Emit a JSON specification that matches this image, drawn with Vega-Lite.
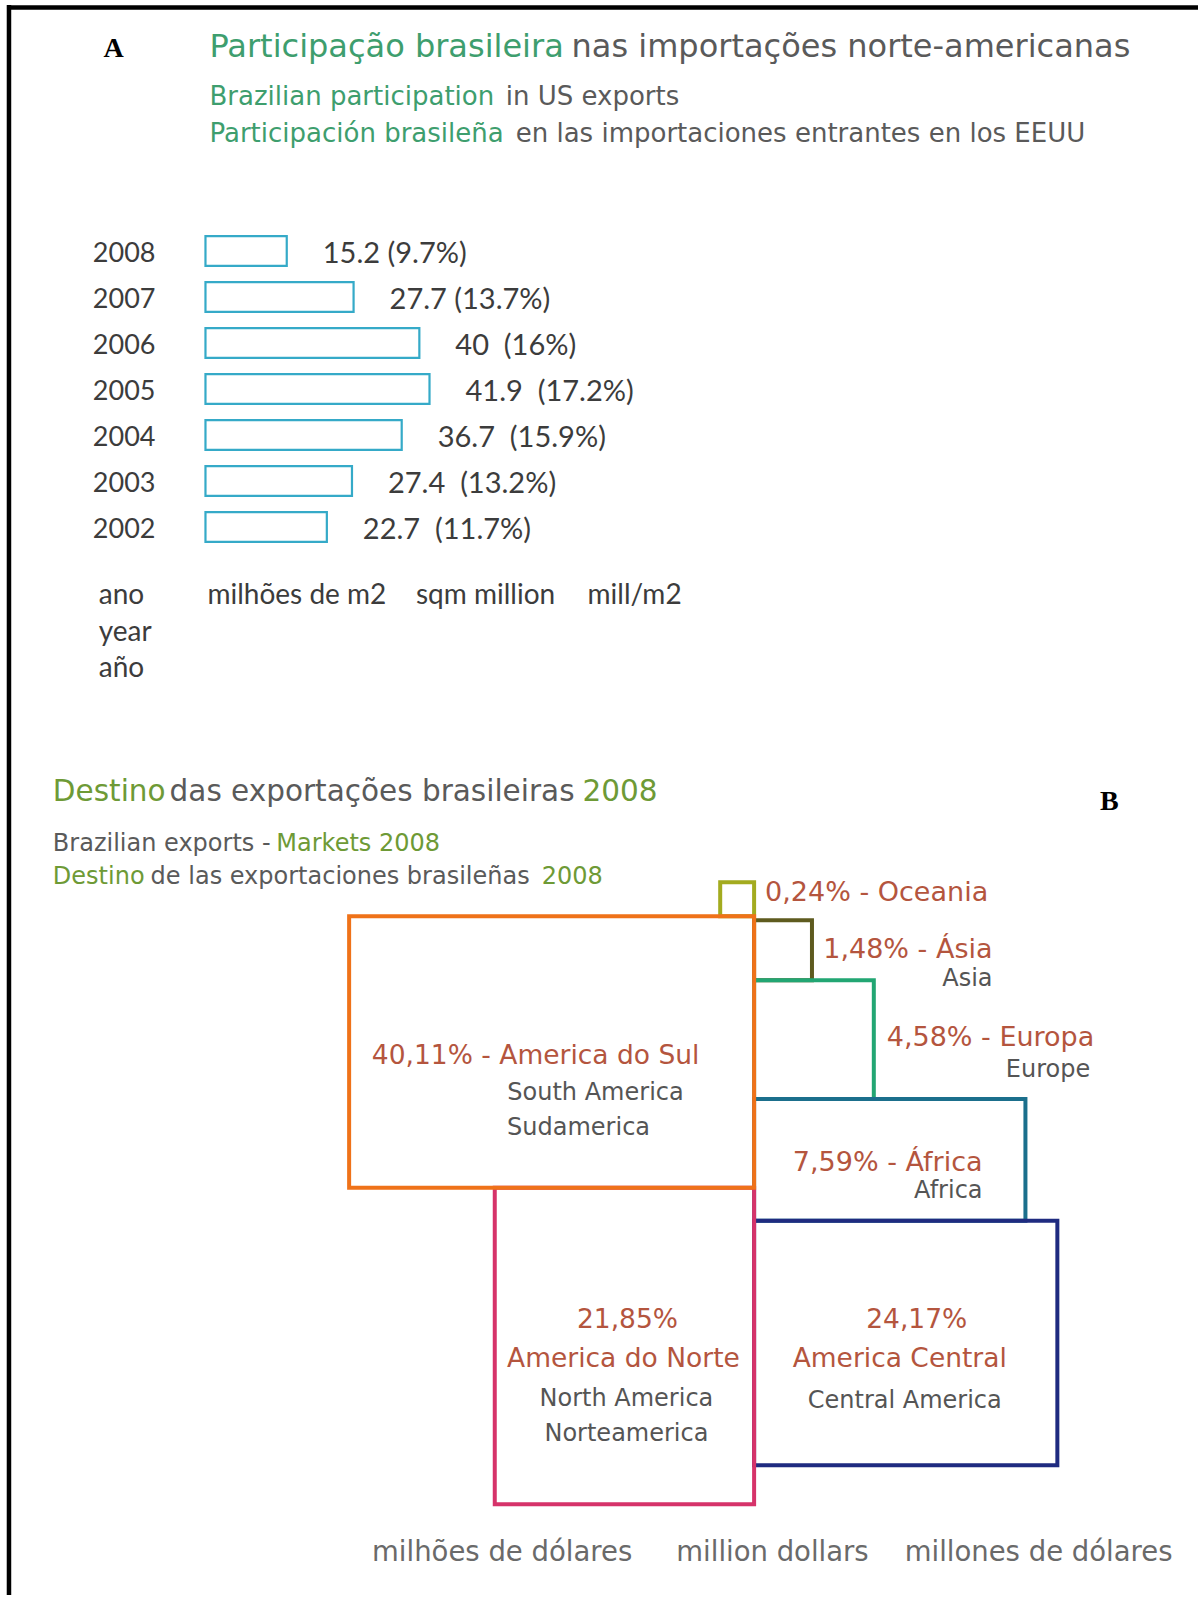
{
  "$schema": "https://vega.github.io/schema/vega-lite/v6.json",
  "width": 1201,
  "height": 1598,
  "autosize": {"type": "fit", "contains": "padding"},
  "padding": 0,
  "background": "white",
  "config": {"view": {"stroke": null}, "font": "DejaVu Sans"},
  "datasets": {
    "imports": [
      {"year": "2008", "value": 15.2, "share": "9.7%", "label": "15.2 (9.7%)"},
      {"year": "2007", "value": 27.7, "share": "13.7%", "label": "27.7 (13.7%)"},
      {"year": "2006", "value": 40, "share": "16%", "label": "40\u00a0 (16%)"},
      {"year": "2005", "value": 41.9, "share": "17.2%", "label": "41.9\u00a0 (17.2%)"},
      {"year": "2004", "value": 36.7, "share": "15.9%", "label": "36.7\u00a0 (15.9%)"},
      {"year": "2003", "value": 27.4, "share": "13.2%", "label": "27.4\u00a0 (13.2%)"},
      {"year": "2002", "value": 22.7, "share": "11.7%", "label": "22.7\u00a0 (11.7%)"}
    ],
    "boxes": [
      {"region": "Oceania", "share": 0.24, "x": 722, "x2": 756, "y": 884, "y2": 918},
      {"region": "Ásia", "share": 1.48, "x": 756, "x2": 814, "y": 922, "y2": 982},
      {"region": "Europa", "share": 4.58, "x": 756, "x2": 876, "y": 982, "y2": 1101},
      {"region": "África", "share": 7.59, "x": 756, "x2": 1028, "y": 1101, "y2": 1223},
      {"region": "America Central", "share": 24.17, "x": 756, "x2": 1060, "y": 1223, "y2": 1468},
      {"region": "America do Norte", "share": 21.85, "x": 496, "x2": 756, "y": 1190, "y2": 1507},
      {"region": "America do Sul", "share": 40.11, "x": 350, "x2": 756, "y": 918, "y2": 1190}
    ],
    "frame": [
      {"x": 7, "x2": 1201, "y": 7.5, "y2": 7.5},
      {"x": 9, "x2": 9, "y": 5, "y2": 1598}
    ],
    "labels": [
      {"role": "letter", "text": "A", "x": 114, "y": 49},
      {"role": "letter", "text": "B", "x": 1112, "y": 804},
      {"role": "titleA_hi", "text": "Participação brasileira", "x": 210, "y": 47},
      {"role": "titleA", "text": "nas importações norte-americanas", "x": 573, "y": 47},
      {"role": "subA_hi", "text": "Brazilian participation", "x": 210, "y": 97},
      {"role": "subA_hi", "text": "Participación brasileña", "x": 210, "y": 134},
      {"role": "subA", "text": "in US exports", "x": 507, "y": 97},
      {"role": "subA", "text": "en las importaciones entrantes en los EEUU", "x": 517, "y": 134},
      {"role": "unitA", "text": "ano", "x": 99, "y": 597},
      {"role": "unitA", "text": "year", "x": 99, "y": 634},
      {"role": "unitA", "text": "año", "x": 99, "y": 670},
      {"role": "unitA", "text": "milhões de m2", "x": 208, "y": 597},
      {"role": "unitA", "text": "sqm million", "x": 417, "y": 597},
      {"role": "unitA", "text": "mill/m2", "x": 589, "y": 597},
      {"role": "titleB_hi", "text": "Destino", "x": 53, "y": 793},
      {"role": "titleB_hi", "text": "2008", "x": 584, "y": 793},
      {"role": "titleB", "text": "das exportações brasileiras", "x": 170, "y": 793},
      {"role": "subB", "text": "Brazilian exports -", "x": 53, "y": 846},
      {"role": "subB", "text": "de las exportaciones brasileñas", "x": 151, "y": 879},
      {"role": "subB_hi", "text": "Markets 2008", "x": 277, "y": 846},
      {"role": "subB_hi", "text": "Destino", "x": 53, "y": 879},
      {"role": "subB_hi", "text": "2008", "x": 543, "y": 879},
      {"role": "share_left", "text": "0,24% - Oceania", "x": 767, "y": 895},
      {"role": "share_right", "text": "1,48% - Ásia", "x": 995, "y": 952},
      {"role": "share_right", "text": "4,58% - Europa", "x": 1097, "y": 1040},
      {"role": "share_right", "text": "7,59% - África", "x": 985, "y": 1165},
      {"role": "name_right", "text": "Asia", "x": 995, "y": 981},
      {"role": "name_right", "text": "Europe", "x": 1093, "y": 1072},
      {"role": "name_right", "text": "Africa", "x": 985, "y": 1193},
      {"role": "share_center", "text": "40,11% - America do Sul", "x": 537, "y": 1058},
      {"role": "share_center", "text": "21,85%", "x": 629, "y": 1322},
      {"role": "share_center", "text": "America do Norte", "x": 625, "y": 1362},
      {"role": "share_center", "text": "24,17%", "x": 919, "y": 1322},
      {"role": "share_center", "text": "America Central", "x": 902, "y": 1362},
      {"role": "name_center", "text": "South America", "x": 597, "y": 1095},
      {"role": "name_center", "text": "Sudamerica", "x": 580, "y": 1130},
      {"role": "name_center", "text": "North America", "x": 628, "y": 1402},
      {"role": "name_center", "text": "Norteamerica", "x": 628, "y": 1437},
      {"role": "name_center", "text": "Central America", "x": 907, "y": 1404},
      {"role": "unitB", "text": "milhões de dólares", "x": 373, "y": 1556},
      {"role": "unitB", "text": "million dollars", "x": 678, "y": 1556},
      {"role": "unitB", "text": "millones de dólares", "x": 907, "y": 1556}
    ]
  },
  "layer": [
    {
      "data": {"name": "imports"},
      "encoding": {
        "y": {
          "field": "year",
          "type": "ordinal",
          "sort": null,
          "scale": {"domain": ["2008", "2007", "2006", "2005", "2004", "2003", "2002"], "range": [228, 550], "paddingInner": 0.35, "paddingOuter": 0.175},
          "axis": {"orient": "left", "offset": -157, "domain": false, "ticks": false, "grid": false, "labelPadding": 2, "labelOffset": 3, "labelFontSize": 27, "labelFont": "Lato", "labelColor": "#3c3c3c", "labelAlign": "right", "title": null}
        },
        "x": {"field": "value", "type": "quantitative", "scale": {"domain": [-38.43, 185.63], "zero": false, "nice": false}, "axis": null}
      },
      "layer": [
        {
          "mark": {"type": "bar", "fill": "white", "stroke": "#35aac8", "strokeWidth": 2.2},
          "encoding": {"x2": {"datum": 0}}
        },
        {
          "mark": {"type": "text", "align": "left", "baseline": "middle", "dx": 36, "dy": 3, "fontSize": 29, "font": "Lato", "color": "#3c3c3c"},
          "encoding": {"text": {"field": "label"}}
        }
      ]
    },
    {
      "encoding": {
        "x": {"field": "x", "type": "quantitative", "scale": {"domain": [0, 1201], "nice": false, "zero": false}, "axis": null},
        "y": {"field": "y", "type": "quantitative", "scale": {"domain": [0, 1598], "nice": false, "zero": false, "reverse": true}, "axis": null}
      },
      "layer": [
        {
          "data": {"name": "frame"},
          "mark": {"type": "rule", "color": "black", "strokeWidth": 4.5},
          "encoding": {"x2": {"field": "x2"}, "y2": {"field": "y2"}}
        },
        {
          "data": {"name": "boxes"},
          "mark": {"type": "rect", "filled": false, "strokeWidth": 4},
          "encoding": {
            "x2": {"field": "x2"},
            "y2": {"field": "y2"},
            "color": {
              "field": "region",
              "type": "nominal",
              "scale": {
                "domain": ["Oceania", "Ásia", "Europa", "África", "America Central", "America do Norte", "America do Sul"],
                "range": ["#a3ab1f", "#5e5b1f", "#22a673", "#1b6f8c", "#1f2b80", "#d6336a", "#ef7219"]
              },
              "legend": null
            }
          }
        },
        {
          "data": {"name": "labels"},
          "layer": [
            {"transform": [{"filter": {"field": "role", "equal": "letter"}}], "mark": {"type": "text", "align": "center", "baseline": "middle", "font": "Liberation Serif", "fontWeight": "bold", "fontSize": 28, "color": "black"}, "encoding": {"text": {"field": "text"}}},
            {"transform": [{"filter": {"field": "role", "equal": "titleA_hi"}}], "mark": {"type": "text", "align": "left", "baseline": "middle", "fontSize": 32, "color": "#3e9e6e"}, "encoding": {"text": {"field": "text"}}},
            {"transform": [{"filter": {"field": "role", "equal": "titleA"}}], "mark": {"type": "text", "align": "left", "baseline": "middle", "fontSize": 32, "color": "#5a5a5a"}, "encoding": {"text": {"field": "text"}}},
            {"transform": [{"filter": {"field": "role", "equal": "subA_hi"}}], "mark": {"type": "text", "align": "left", "baseline": "middle", "fontSize": 26, "color": "#3e9e6e"}, "encoding": {"text": {"field": "text"}}},
            {"transform": [{"filter": {"field": "role", "equal": "subA"}}], "mark": {"type": "text", "align": "left", "baseline": "middle", "fontSize": 26, "color": "#5a5a5a"}, "encoding": {"text": {"field": "text"}}},
            {"transform": [{"filter": {"field": "role", "equal": "unitA"}}], "mark": {"type": "text", "align": "left", "baseline": "middle", "font": "Lato", "fontSize": 28, "color": "#3c3c3c"}, "encoding": {"text": {"field": "text"}}},
            {"transform": [{"filter": {"field": "role", "equal": "titleB_hi"}}], "mark": {"type": "text", "align": "left", "baseline": "middle", "fontSize": 29.5, "color": "#6e9a36"}, "encoding": {"text": {"field": "text"}}},
            {"transform": [{"filter": {"field": "role", "equal": "titleB"}}], "mark": {"type": "text", "align": "left", "baseline": "middle", "fontSize": 29.5, "color": "#5a5a5a"}, "encoding": {"text": {"field": "text"}}},
            {"transform": [{"filter": {"field": "role", "equal": "subB"}}], "mark": {"type": "text", "align": "left", "baseline": "middle", "fontSize": 24, "color": "#5a5a5a"}, "encoding": {"text": {"field": "text"}}},
            {"transform": [{"filter": {"field": "role", "equal": "subB_hi"}}], "mark": {"type": "text", "align": "left", "baseline": "middle", "fontSize": 24, "color": "#6e9a36"}, "encoding": {"text": {"field": "text"}}},
            {"transform": [{"filter": {"field": "role", "equal": "share_left"}}], "mark": {"type": "text", "align": "left", "baseline": "middle", "fontSize": 27, "color": "#b4553e"}, "encoding": {"text": {"field": "text"}}},
            {"transform": [{"filter": {"field": "role", "equal": "share_right"}}], "mark": {"type": "text", "align": "right", "baseline": "middle", "fontSize": 27, "color": "#b4553e"}, "encoding": {"text": {"field": "text"}}},
            {"transform": [{"filter": {"field": "role", "equal": "share_center"}}], "mark": {"type": "text", "align": "center", "baseline": "middle", "fontSize": 26.5, "color": "#b4553e"}, "encoding": {"text": {"field": "text"}}},
            {"transform": [{"filter": {"field": "role", "equal": "name_right"}}], "mark": {"type": "text", "align": "right", "baseline": "middle", "fontSize": 24, "color": "#555555"}, "encoding": {"text": {"field": "text"}}},
            {"transform": [{"filter": {"field": "role", "equal": "name_center"}}], "mark": {"type": "text", "align": "center", "baseline": "middle", "fontSize": 24, "color": "#555555"}, "encoding": {"text": {"field": "text"}}},
            {"transform": [{"filter": {"field": "role", "equal": "unitB"}}], "mark": {"type": "text", "align": "left", "baseline": "middle", "fontSize": 27.5, "color": "#6a6a6a"}, "encoding": {"text": {"field": "text"}}}
          ]
        }
      ]
    }
  ],
  "resolve": {"scale": {"x": "independent", "y": "independent"}}
}
